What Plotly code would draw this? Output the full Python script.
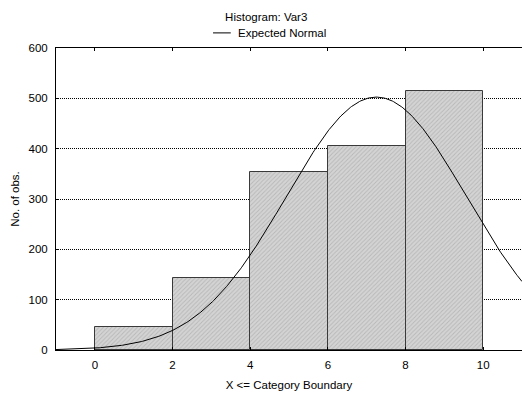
import numpy as np
import plotly.graph_objects as go

# Data
bin_left = [0, 2, 4, 6, 8]
bin_right = [2, 4, 6, 8, 10]
counts = [45, 143, 353, 405, 515]

# Expected normal parameters (fitted to the histogram)
normal_mean = 7.25
normal_sd = 2.32
bin_width = 2

x_ticks = [0, 2, 4, 6, 8, 10]
y_ticks = [0, 100, 200, 300, 400, 500, 600]

centers = [(a + b) / 2 for a, b in zip(bin_left, bin_right)]
widths = [b - a for a, b in zip(bin_left, bin_right)]
n_total = sum(counts)
xs = np.linspace(-1, 11, 400)
ys = n_total * bin_width / (normal_sd * np.sqrt(2 * np.pi)) * np.exp(-0.5 * ((xs - normal_mean) / normal_sd) ** 2)

FS = 11.5

fig = go.Figure()
fig.add_trace(go.Bar(
    x=centers, y=counts, width=widths, showlegend=False,
    marker=dict(color="#cfcfcf",
                line=dict(color="#3a3a3a", width=1),
                pattern=dict(shape="/", fgcolor="#9a9a9a", bgcolor="#d4d4d4", size=3, solidity=0.3)),
))
fig.add_trace(go.Scatter(
    x=xs, y=ys, mode="lines", name="Expected Normal", showlegend=False,
    line=dict(color="black", width=1),
))

# Manual legend (short line sample as in the reference)
fig.add_shape(type="line", xref="paper", yref="paper", x0=0.337, x1=0.375, y0=1.050, y1=1.050,
              line=dict(color="black", width=1))
fig.add_annotation(text="Expected Normal", xref="paper", yref="paper", x=0.386, y=1.050,
                   xanchor="left", yanchor="middle", showarrow=False, font=dict(size=FS))

fig.update_layout(
    width=522, height=394,
    margin=dict(l=56, r=0, t=48, b=44),
    paper_bgcolor="white", plot_bgcolor="white",
    font=dict(family="Liberation Sans, Arial, sans-serif", size=FS, color="black"),
    title=dict(text="Histogram: Var3", x=0.51, xanchor="center", y=0.957, yanchor="middle",
               font=dict(size=FS)),
    bargap=0,
)
fig.update_xaxes(
    range=[-1, 11], tickvals=x_ticks, ticks="inside", ticklen=3, tickcolor="black",
    showline=True, linecolor="black", linewidth=1, mirror="ticks", showgrid=False, zeroline=False,
    ticklabelstandoff=4,
    title=dict(text="X <= Category Boundary", standoff=11, font=dict(size=FS)),
)
fig.update_yaxes(
    range=[0, 600], tickvals=y_ticks, ticks="inside", ticklen=3, tickcolor="black",
    showline=True, linecolor="black", linewidth=1, showgrid=True, gridcolor="black",
    griddash="1px,1px", gridwidth=1, zeroline=False,
    ticklabelstandoff=5,
    title=dict(text="No. of obs.", standoff=6, font=dict(size=FS)),
)

fig.write_html("out.html")
